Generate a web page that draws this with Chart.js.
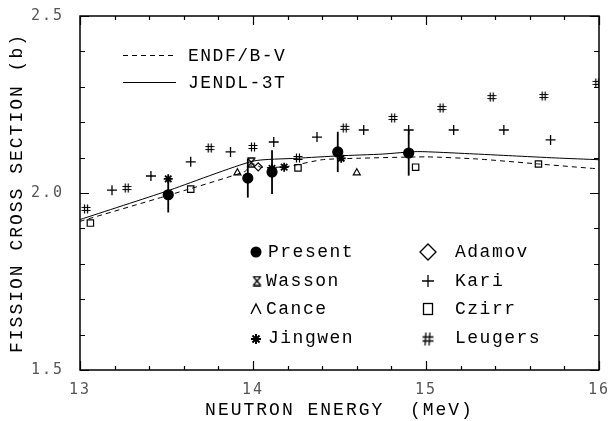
<!DOCTYPE html>
<html><head><meta charset="utf-8">
<script src="https://cdn.jsdelivr.net/npm/chart.js@4.4.0/dist/chart.umd.min.js"></script>
<style>html,body{margin:0;padding:0;background:#fff}canvas{display:block}</style>
</head><body>
<canvas id="c" width="611" height="421"></canvas>
<script>
// ---- axis ticks ----
const xTickLabels = [13, 14, 15, 16];
const yTickLabels = [1.5, 2.0, 2.5];

// ---- evaluated curves ----
const endfE  = [13.0, 13.5, 13.95, 14.0, 14.05, 14.2, 14.4, 14.6, 15.0, 15.3, 15.65, 16.0];
const endfS  = [1.920, 1.992, 2.060, 2.082, 2.072, 2.075, 2.094, 2.098, 2.102, 2.096, 2.082, 2.068];
const jendlE = [13.0, 13.5, 14.0, 14.25, 14.5, 14.75, 14.95, 15.25, 15.5, 15.75, 16.0];
const jendlS = [1.925, 2.005, 2.090, 2.098, 2.105, 2.110, 2.117, 2.111, 2.105, 2.099, 2.094];

// ---- measurements ----
const presentE   = [13.51, 13.97, 14.11, 14.49, 14.90];
const presentS   = [1.995, 2.042, 2.059, 2.116, 2.113];
const presentErr = [0.050, 0.055, 0.062, 0.057, 0.064];
const wassonE  = [13.99];
const wassonS  = [2.086];
const canceE   = [13.91, 14.60];
const canceS   = [2.057, 2.057];
const jingwenE = [13.51, 14.11, 14.18, 14.51];
const jingwenS = [2.040, 2.070, 2.073, 2.098];
const adamovE  = [14.03];
const adamovS  = [2.074];
const kariE = [13.185, 13.41, 13.64, 13.87, 14.12, 14.37, 14.64, 14.90, 15.16, 15.45, 15.72];
const kariS = [2.008, 2.048, 2.088, 2.116, 2.144, 2.158, 2.178, 2.178, 2.178, 2.178, 2.150];
const czirrE = [13.06, 13.64, 14.26, 14.94, 15.65];
const czirrS = [1.915, 2.011, 2.071, 2.073, 2.082];
const leugersE = [13.035, 13.27, 13.75, 14.00, 14.26, 14.53, 14.81, 15.09, 15.38, 15.68, 15.99];
const leugersS = [1.955, 2.014, 2.127, 2.130, 2.099, 2.184, 2.212, 2.240, 2.271, 2.274, 2.311];

function pts(xs, ys) { return xs.map((x, i) => ({x: x, y: ys[i]})); }

function symCanvas(size, draw) {
  const c = document.createElement('canvas');
  c.width = c.height = size;
  const g = c.getContext('2d');
  g.strokeStyle = '#000'; g.fillStyle = '#000';
  draw(g, size);
  return c;
}
const hashImg = symCanvas(10, g => {
  g.lineWidth = 1.2; g.beginPath();
  g.moveTo(3.5, 0.5); g.lineTo(3.5, 9.5); g.moveTo(6.5, 0.5); g.lineTo(6.5, 9.5);
  g.moveTo(0.5, 3.5); g.lineTo(9.5, 3.5); g.moveTo(0.5, 6.5); g.lineTo(9.5, 6.5);
  g.stroke();
});
const hashBig = symCanvas(15, g => {
  g.lineWidth = 1.3; g.beginPath();
  g.moveTo(5.5, 1); g.lineTo(4.5, 14); g.moveTo(9.5, 1); g.lineTo(8.5, 14);
  g.moveTo(2, 5.5); g.lineTo(13, 5.5); g.moveTo(2, 9.5); g.lineTo(13, 9.5);
  g.stroke();
});
const wassonImg = symCanvas(11, g => {
  g.lineWidth = 1.3; g.beginPath();
  g.moveTo(1.5, 1); g.lineTo(9.5, 1); g.moveTo(1.5, 10); g.lineTo(9.5, 10);
  g.moveTo(2, 1.5); g.lineTo(9, 9.5); g.moveTo(9, 1.5); g.lineTo(2, 9.5);
  g.stroke();
});

const base = {showLine: false, borderColor: '#000', backgroundColor: '#000', borderWidth: 1.2};
const datasets = [
  {label: 'ENDF/B-V', data: pts(endfE, endfS), showLine: true, pointRadius: 0, borderColor: '#000', borderWidth: 1, borderDash: [5, 4], tension: 0.2},
  {label: 'JENDL-3T', data: pts(jendlE, jendlS), showLine: true, pointRadius: 0, borderColor: '#000', borderWidth: 1, tension: 0.2},
  Object.assign({}, base, {label: 'Czirr', data: pts(czirrE, czirrS), pointStyle: 'rect', pointRadius: 4.5, backgroundColor: '#fff'}),
  Object.assign({}, base, {label: 'Cance', data: pts(canceE, canceS), pointStyle: 'triangle', pointRadius: 4, backgroundColor: '#fff'}),
  Object.assign({}, base, {label: 'Adamov', data: pts(adamovE, adamovS), pointStyle: 'rectRot', pointRadius: 4, backgroundColor: '#fff'}),
  Object.assign({}, base, {label: 'Kari', data: pts(kariE, kariS), pointStyle: 'cross', pointRadius: 5, borderWidth: 1.3}),
  Object.assign({}, base, {label: 'Leugers', data: pts(leugersE, leugersS), pointStyle: hashImg}),
  Object.assign({}, base, {label: 'Wasson', data: pts(wassonE, wassonS), pointStyle: wassonImg}),
  Object.assign({}, base, {label: 'Jingwen', data: pts(jingwenE, jingwenS), pointStyle: 'star', pointRadius: 4.5, borderWidth: 1.8}),
  Object.assign({}, base, {label: 'Present', data: pts(presentE, presentS), pointStyle: 'circle', pointRadius: 5})
];

const spacingPlugin = {
  id: 'spacing',
  beforeDraw(chart) { chart.ctx.letterSpacing = '2px'; },
  afterDraw(chart) { chart.ctx.letterSpacing = '0px'; }
};

const errorBars = {
  id: 'errorBars',
  afterDatasetsDraw(chart) {
    const ctx = chart.ctx, xs = chart.scales.x, ys = chart.scales.y;
    ctx.save(); ctx.strokeStyle = '#000'; ctx.lineWidth = 1.8;
    presentE.forEach((e, i) => {
      const px = xs.getPixelForValue(e);
      ctx.beginPath();
      ctx.moveTo(px, ys.getPixelForValue(presentS[i] - presentErr[i]));
      ctx.lineTo(px, ys.getPixelForValue(presentS[i] + presentErr[i]));
      ctx.stroke();
    });
    ctx.restore();
  }
};

const frame = {
  id: 'frame',
  afterDraw(chart) {
    const ctx = chart.ctx, a = chart.chartArea, xs = chart.scales.x, ys = chart.scales.y;
    ctx.save(); ctx.strokeStyle = '#000'; ctx.lineWidth = 1.5;
    ctx.strokeRect(a.left, a.top, a.right - a.left, a.bottom - a.top);
    ctx.lineWidth = 1.2; ctx.beginPath();
    for (let k = 0; k <= 15; k++) {
      const v = 13 + k * 0.2, px = Math.round(xs.getPixelForValue(v)) + 0.5;
      const len = (k % 5 === 0) ? 9 : 4;
      ctx.moveTo(px, a.bottom); ctx.lineTo(px, a.bottom - len);
      ctx.moveTo(px, a.top); ctx.lineTo(px, a.top + len);
    }
    for (let k = 0; k <= 10; k++) {
      const v = 1.5 + k * 0.1, py = Math.round(ys.getPixelForValue(v)) + 0.5;
      const len = (k % 5 === 0) ? 9 : 5;
      ctx.moveTo(a.left, py); ctx.lineTo(a.left + len, py);
      ctx.moveTo(a.right, py); ctx.lineTo(a.right - len, py);
    }
    ctx.stroke(); ctx.restore();
  }
};

const legendPlugin = {
  id: 'customLegend',
  afterDraw(chart) {
    const ctx = chart.ctx;
    const lab = n => chart.data.datasets.find(d => d.label === n).label;
    ctx.save();
    ctx.letterSpacing = '1.5px';
    ctx.fillStyle = '#000'; ctx.strokeStyle = '#000';
    ctx.font = '18px "Liberation Mono"'; ctx.textBaseline = 'middle'; ctx.textAlign = 'left';
    ctx.lineWidth = 1;
    ctx.setLineDash([5, 4]); ctx.beginPath(); ctx.moveTo(123, 55.5); ctx.lineTo(176, 55.5); ctx.stroke();
    ctx.setLineDash([]); ctx.beginPath(); ctx.moveTo(123, 82.5); ctx.lineTo(176, 82.5); ctx.stroke();
    ctx.fillText(lab('ENDF/B-V'), 188, 56);
    ctx.fillText(lab('JENDL-3T'), 188, 83);
    const rows = [252, 281, 309, 338];
    const c1 = 256, t1 = 266, c2 = 428, t2 = 455;
    ctx.lineWidth = 1.4;
    ctx.beginPath(); ctx.arc(c1, rows[0], 5.5, 0, Math.PI * 2); ctx.fill();
    ctx.fillText(lab('Present'), t1 + 2, rows[0]);
    ctx.drawImage(wassonImg, c1 - 4.5, rows[1] - 5.5);
    ctx.fillText(lab('Wasson'), t1, rows[1]);
    ctx.beginPath(); ctx.moveTo(c1 - 5, rows[2] + 5); ctx.lineTo(c1, rows[2] - 5); ctx.lineTo(c1 + 5, rows[2] + 5); ctx.stroke();
    ctx.fillText(lab('Cance'), t1, rows[2]);
    ctx.lineWidth = 2;
    ctx.beginPath();
    for (let k = 0; k < 4; k++) {
      const ang = k * Math.PI / 4;
      ctx.moveTo(c1 - 5 * Math.cos(ang), rows[3] + 1 - 5 * Math.sin(ang));
      ctx.lineTo(c1 + 5 * Math.cos(ang), rows[3] + 1 + 5 * Math.sin(ang));
    }
    ctx.stroke();
    ctx.fillText(lab('Jingwen'), t1 + 2, rows[3]);
    ctx.lineWidth = 1.3;
    ctx.beginPath(); ctx.moveTo(c2, rows[0] - 8); ctx.lineTo(c2 + 8, rows[0]); ctx.lineTo(c2, rows[0] + 8); ctx.lineTo(c2 - 8, rows[0]); ctx.closePath(); ctx.stroke();
    ctx.fillText(lab('Adamov'), t2, rows[0]);
    ctx.beginPath(); ctx.moveTo(c2 - 6, rows[1]); ctx.lineTo(c2 + 6, rows[1]); ctx.moveTo(c2, rows[1] - 6); ctx.lineTo(c2, rows[1] + 6); ctx.stroke();
    ctx.fillText(lab('Kari'), t2, rows[1]);
    ctx.strokeRect(c2 - 4.5, rows[2] - 5.5, 9, 11);
    ctx.fillText(lab('Czirr'), t2, rows[2]);
    ctx.drawImage(hashBig, c2 - 7.5, rows[3] - 6.5);
    ctx.fillText(lab('Leugers'), t2, rows[3]);
    ctx.restore();
  }
};

new Chart(document.getElementById('c'), {
  type: 'scatter',
  data: {datasets: datasets},
  options: {
    responsive: false, animation: false, devicePixelRatio: 1,
    layout: {padding: {top: 16, right: 12, left: 0, bottom: 0}},
    plugins: {legend: {display: false}, tooltip: {enabled: false}},
    scales: {
      x: {
        type: 'linear', min: 13, max: 16,
        afterBuildTicks: s => { s.ticks = xTickLabels.map(v => ({value: v})); },
        afterFit: s => { s.height = 51; s.paddingLeft = 0; s.paddingRight = 0; },
        grid: {display: false, drawTicks: false}, border: {display: false},
        ticks: {color: '#555', padding: 11, maxRotation: 0, font: {family: '"DejaVu Sans Mono"', size: 15}, callback: v => String(v)},
        title: {display: true, text: 'NEUTRON ENERGY  (MeV)', color: '#000', padding: {top: 0, bottom: 0}, font: {family: '"Liberation Mono"', size: 18}}
      },
      y: {
        type: 'linear', min: 1.5, max: 2.5,
        afterBuildTicks: s => { s.ticks = yTickLabels.map(v => ({value: v})); },
        afterFit: s => { s.width = 80; s.paddingTop = 0; s.paddingBottom = 0; },
        grid: {display: false, drawTicks: false}, border: {display: false},
        ticks: {color: '#555', padding: 16, font: {family: '"DejaVu Sans Mono"', size: 15}, callback: v => v.toFixed(1)},
        title: {display: true, text: 'FISSION CROSS SECTION (b)', color: '#000', padding: {top: 6, bottom: 0}, font: {family: '"Liberation Mono"', size: 18}}
      }
    }
  },
  plugins: [spacingPlugin, errorBars, frame, legendPlugin]
});
</script>
</body></html>
